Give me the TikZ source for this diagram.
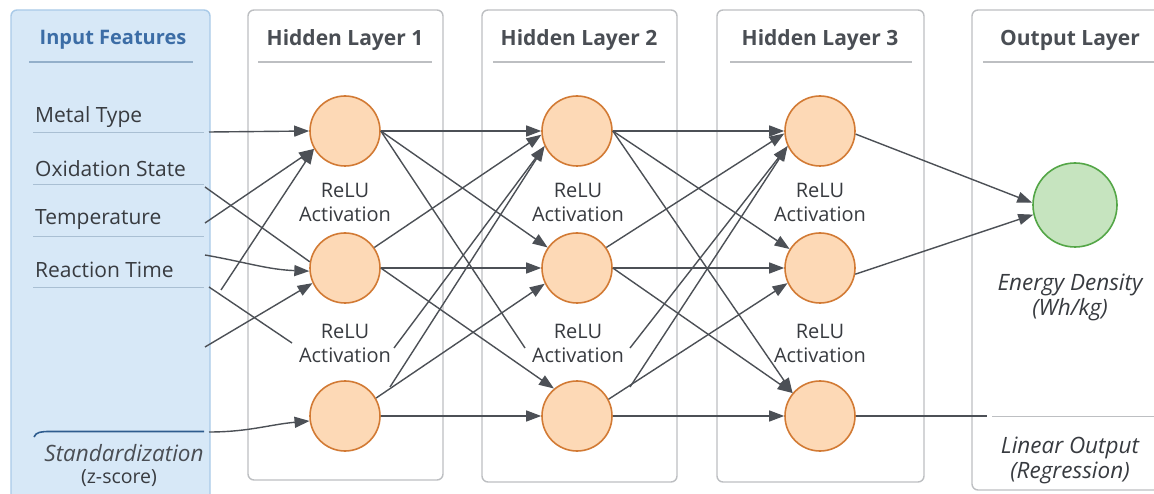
\documentclass[tikz,border=0pt]{standalone}
\usepackage{fontspec}
\setmainfont{Open Sans}
\usetikzlibrary{arrows.meta}

\definecolor{inkline}{HTML}{4C5056}
\definecolor{titlegray}{HTML}{4A4E54}
\definecolor{txtgray}{HTML}{383B40}
\definecolor{panelgray}{HTML}{BDBFC2}
\definecolor{inpanelfill}{HTML}{D7E8F7}
\definecolor{inpaneldraw}{HTML}{A9CAE8}
\definecolor{inblue}{HTML}{3C6DA6}
\definecolor{featline}{HTML}{A9BFD3}
\definecolor{stdblue}{HTML}{2E5C8E}
\definecolor{neurfill}{HTML}{FDD9B6}
\definecolor{neurdraw}{HTML}{D27A34}
\definecolor{outfill}{HTML}{C6E4BF}
\definecolor{outdraw}{HTML}{54A647}

\tikzset{
  panel/.style={draw=panelgray, line width=1.4pt, rounded corners=6pt, fill=white},
  inpanel/.style={draw=inpaneldraw, line width=1.4pt, rounded corners=6pt, fill=inpanelfill},
  rule/.style={draw=panelgray, line width=1.2pt},
  neuron/.style={circle, draw=neurdraw, fill=neurfill, line width=1.6pt, minimum size=70pt, inner sep=0pt},
  outneuron/.style={circle, draw=outdraw, fill=outfill, line width=1.6pt, minimum size=84pt, inner sep=0pt},
  link/.style={draw=inkline, line width=1.4pt},
  arr/.style={link, -{Triangle[length=15pt,width=11pt]}},
  layertitle/.style={font=\bfseries\fontsize{21}{24}\selectfont, text=titlegray},
  feat/.style={anchor=west, inner sep=0pt, font=\fontsize{21}{24}\selectfont, text=txtgray},
  act/.style={align=center, inner sep=0pt, font=\fontsize{20}{24}\selectfont, text=txtgray},
  note/.style={align=center, inner sep=0pt, font=\itshape\fontsize{22.5}{25}\selectfont, text=txtgray},
}

\begin{document}
\begin{tikzpicture}[x=1pt, y=-1pt]
\useasboundingbox (0,0) rectangle (1154,494);
\clip (0,0) rectangle (1154,494);

% layer panels
\draw[inpanel] (11,10) rectangle (210,510);
\draw[panel] (248,10) rectangle (443,480);
\draw[panel] (482,10) rectangle (677,482);
\draw[panel] (717,10) rectangle (924,482);
\draw[panel] (972,10) rectangle (1170,490);

% panel titles and rules
\node[font=\bfseries\fontsize{20}{24}\selectfont, text=inblue] (tin) at (113,40) {Input Features};
\draw[draw=featline!80!inblue, line width=1.3pt] (29,62) -- (193,62);
\node[layertitle] (th1) at (345,40) {Hidden Layer 1};
\draw[rule] (258,62) -- (432,62);
\node[layertitle] (th2) at (579,40) {Hidden Layer 2};
\draw[rule] (493,62) -- (665,62);
\node[layertitle] (th3) at (820,40) {Hidden Layer 3};
\draw[rule] (730,62) -- (912,62);
\node[layertitle] (tout) at (1070,40) {Output Layer};
\draw[rule] (983,62) -- (1170,62);

% input features
\node[feat] (f1) at (35,117) {Metal Type};
\draw[featline, line width=1pt] (33,133) -- (204,133);
\node[feat] (f2) at (35,169) {Oxidation State};
\draw[featline, line width=1pt] (33,185) -- (204,185);
\node[feat] (f3) at (35,220) {Temperature};
\draw[featline, line width=1pt] (33,237) -- (204,237);
\node[feat] (f4) at (35,270) {Reaction Time};
\draw[featline, line width=1pt] (33,288) -- (204,288);
\draw[stdblue, line width=1.6pt] (34,437) .. controls (36,432) and (41,431.5) .. (50,431.5) -- (204,431.5);
\node[note, text=titlegray] (fstd) at (124,453) {Standardization};
\node[act, font=\fontsize{19.5}{22}\selectfont] (fz) at (119,478) {(z-score)};

% neurons
\foreach \c/\x in {1/345, 2/577, 3/820} {
  \node[neuron] (h\c1) at (\x,131) {};
  \node[neuron] (h\c2) at (\x,268) {};
  \node[neuron] (h\c3) at (\x,416) {};
}
\node[outneuron] (out) at (1075,205) {};

% activation labels
\node[act] (a11) at (345,202) {ReLU\\Activation};
\node[act] (a12) at (345,343) {ReLU\\Activation};
\node[act] (a21) at (578,202) {ReLU\\Activation};
\node[act] (a22) at (578,343) {ReLU\\Activation};
\node[act] (a31) at (820,202) {ReLU\\Activation};
\node[act] (a32) at (820,343) {ReLU\\Activation};

% output labels
\node[note] (ed) at (1070,297) {Energy Density\\(Wh/kg)};
\draw[rule, line width=1pt] (992,416) -- (1170,416);
\node[note] (lo) at (1070,460) {Linear Output\\(Regression)};

% free ends of connectors
\coordinate (i1) at (209,132);
\coordinate (i2) at (205,187);
\coordinate (i3) at (205,223);
\coordinate (i4) at (205,255);
\coordinate (i5) at (209,287);
\coordinate (j0) at (221,290);
\coordinate (i6) at (205,347);
\coordinate (i7) at (209,432);
\coordinate (l1) at (292,343);
\coordinate (l2) at (525,348);
\coordinate (b1) at (394,348);
\coordinate (b2) at (630,348);
\coordinate (k1) at (390,387);
\coordinate (k2) at (630,387);
\coordinate (e3) at (987,416);

% input -> hidden layer 1
\draw[arr] (i1) -- (h11.west);
\draw[link] (i2) -- (h12.170);
\draw[arr] (i3) -- (h11.210);
\draw[arr] (j0) -- (h11.210);
\draw[arr] (i4) to[out=-10, in=178] (h12.185);
\draw[link] (i5) -- (l1);
\draw[arr] (i6) -- (h12.205);
\draw[arr] (i7) to[out=0, in=185] (h13.188);

% hidden layer 1 -> hidden layer 2
\draw[arr] (h11.east) -- (h21.west);
\draw[arr] (h11.east) -- (h22.145);
\draw[link] (h11.east) -- (l2);
\draw[arr] (h12.35) -- (h21.186);
\draw[arr] (h12.east) -- (h22.west);
\draw[arr] (h12.east) -- (h23.130);
\draw[arr] (h13.30) -- (h22.206);
\draw[arr] (k1) -- (h21.205);
\draw[arr] (b1) -- (h21.205);
\draw[arr] (h13.east) -- (h23.west);

% hidden layer 2 -> hidden layer 3
\draw[arr] (h21.east) -- (h31.west);
\draw[arr] (h21.east) -- (h32.148);
\draw[arr] (h21.east) -- (h33.140);
\draw[arr] (h22.35) -- (h31.184);
\draw[arr] (h22.east) -- (h32.west);
\draw[arr] (h22.east) -- (h33.140);
\draw[arr] (h23.28) -- (h32.205);
\draw[arr] (k2) -- (h31.205);
\draw[arr] (b2) -- (h31.205);
\draw[arr] (h23.east) -- (h33.west);

% hidden layer 3 -> output
\draw[arr] (h31.-5) -- (out.177);
\draw[arr] (h32.-10) -- (out.193);
\draw[link] (h33.east) -- (e3);
\end{tikzpicture}
\end{document}
